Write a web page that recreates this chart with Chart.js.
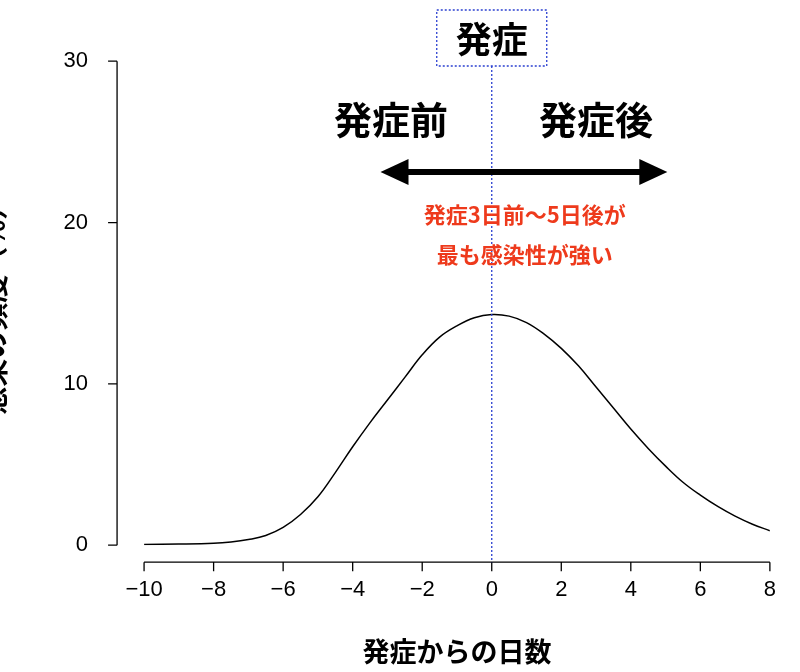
<!DOCTYPE html>
<html><head><meta charset="utf-8">
<script src="https://cdn.jsdelivr.net/npm/chart.js@4/dist/chart.umd.min.js"></script>
<style>html,body{margin:0;background:#fff}#w{width:800px;height:672px}</style>
</head><body><div id="w"><canvas id="c"></canvas></div>
<script>
const days = [-10,-9,-8,-7.5,-7,-6.5,-6,-5.5,-5,-4.5,-4,-3.5,-3,-2.5,-2,-1.5,-1,-0.5,0,0.5,1,1.5,2,2.5,3,3.5,4,4.5,5,5.5,6,6.5,7,7.5,8];
const freq = [0.05,0.07,0.12,0.2,0.35,0.6,1.1,1.9,3.0,4.5,6.1,7.6,9.0,10.4,11.8,12.9,13.6,14.1,14.3,14.2,13.8,13.1,12.2,11.1,9.8,8.5,7.2,6.0,4.9,3.9,3.1,2.4,1.8,1.3,0.9];
const xTicks = [-10,-8,-6,-4,-2,0,2,4,6,8];
const yTicks = [0,10,20,30];
const JP = '"Noto Sans CJK JP", sans-serif';

const deco = {
  id:'deco',
  afterDraw(ch){
    const c=ch.ctx, x=ch.scales.x, y=ch.scales.y, a=ch.chartArea;
    c.save();
    c.strokeStyle='#000'; c.lineWidth=1.3;
    const ay=a.bottom+17;
    c.beginPath(); c.moveTo(x.getPixelForValue(-10),ay); c.lineTo(x.getPixelForValue(8),ay);
    xTicks.forEach(t=>{const p=x.getPixelForValue(t); c.moveTo(p,ay); c.lineTo(p,ay+9);});
    c.stroke();
    const ax=a.left-27;
    c.beginPath(); c.moveTo(ax,y.getPixelForValue(0)); c.lineTo(ax,y.getPixelForValue(30));
    yTicks.forEach(t=>{const p=y.getPixelForValue(t); c.moveTo(ax,p); c.lineTo(ax-9,p);});
    c.stroke();
    const x0=x.getPixelForValue(0);
    c.strokeStyle='#2a3fd0'; c.lineWidth=1.3; c.setLineDash([2,2]);
    c.beginPath(); c.moveTo(x0,66); c.lineTo(x0,ay); c.stroke();
    c.strokeRect(x0-55,10,110,56);
    c.setLineDash([]);
    c.fillStyle='#000'; c.strokeStyle='#000'; c.textAlign='center'; c.textBaseline='middle';
    c.font='bold 36px '+JP;
    c.fillText('発症',x0,39);
    c.font='bold 38px '+JP;
    c.fillText('発症前',x.getPixelForValue(-2.9),120);
    c.fillText('発症後',x.getPixelForValue(3),120);
    const l=x.getPixelForValue(-3.2), r=x.getPixelForValue(5.05), yy=172;
    c.lineWidth=6; c.beginPath(); c.moveTo(l+20,yy); c.lineTo(r-20,yy); c.stroke();
    c.beginPath(); c.moveTo(l,yy); c.lineTo(l+28,yy-13); c.lineTo(l+28,yy+13); c.closePath(); c.fill();
    c.beginPath(); c.moveTo(r,yy); c.lineTo(r-28,yy-13); c.lineTo(r-28,yy+13); c.closePath(); c.fill();
    c.fillStyle='#ee3a1c'; c.font='bold 22px '+JP;
    c.fillText('発症3日前〜5日後が',x.getPixelForValue(0.95),215);
    c.fillText('最も感染性が強い',x.getPixelForValue(0.95),255);
    c.restore();
  }
};

new Chart(document.getElementById('c'),{
  type:'line',
  data:{datasets:[{data:days.map((d,i)=>({x:d,y:freq[i]})),borderColor:'#000',borderWidth:1.5,pointRadius:0,tension:0.4,fill:false}]},
  options:{
    responsive:true,maintainAspectRatio:false,animation:false,
    layout:{padding:{left:-26,right:7,top:52,bottom:0}},
    plugins:{legend:{display:false},tooltip:{enabled:false}},
    scales:{
      x:{type:'linear',min:-10,max:8,afterBuildTicks:s=>{s.ticks=xTicks.map(v=>({value:v}));},
        grid:{display:false},border:{display:false},
        ticks:{padding:24,color:'#000',font:{size:22,family:'"Liberation Sans", sans-serif'},callback:v=>String(v).replace('-','−')},
        title:{display:true,text:'発症からの日数',color:'#000',font:{size:27,weight:'bold',family:JP},padding:{top:8}}},
      y:{min:0,max:30,afterBuildTicks:s=>{s.ticks=yTicks.map(v=>({value:v}));},
        grid:{display:false},border:{display:false},
        ticks:{padding:48,color:'#000',font:{size:22,family:'"Liberation Sans", sans-serif'}},
        title:{display:true,text:'感染の頻度（%）',color:'#000',font:{size:28,weight:'bold',family:JP},padding:{bottom:4}}}
    }
  },
  plugins:[deco]
});
</script></body></html>
